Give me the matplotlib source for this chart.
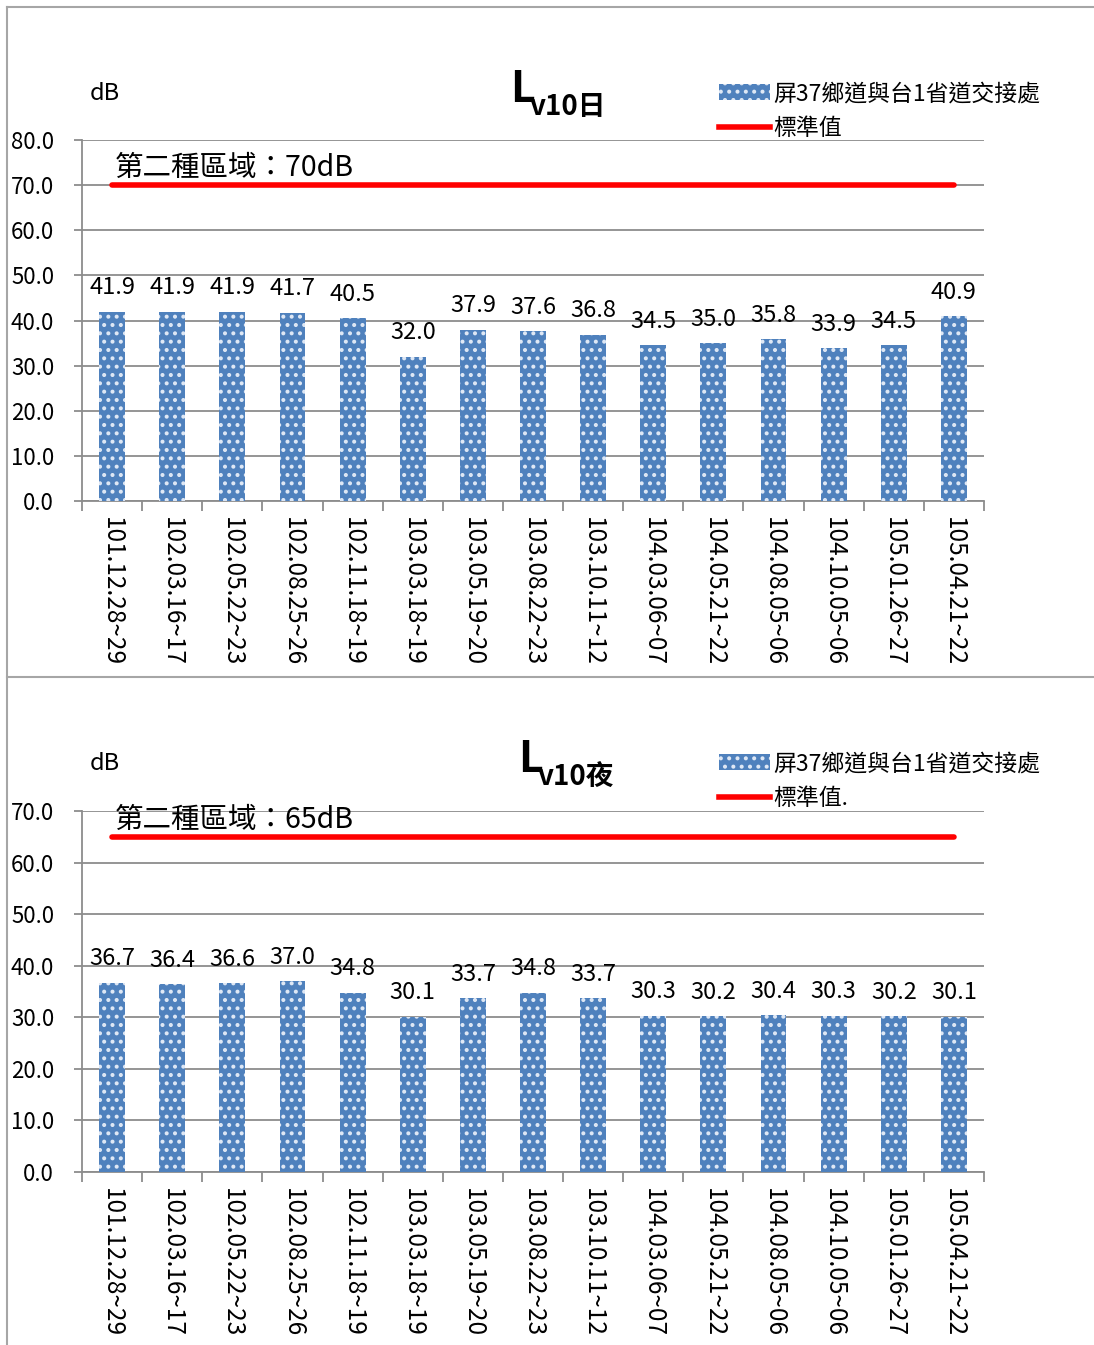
import numpy as np
import matplotlib
matplotlib.use("Agg")
import matplotlib.pyplot as plt
from matplotlib.lines import Line2D
from matplotlib.patches import Patch

plt.rcParams['font.family'] = ['Noto Sans CJK TC', 'DejaVu Sans']
plt.rcParams['hatch.linewidth'] = 1.7

dates = ['101.12.28~29', '102.03.16~17', '102.05.22~23', '102.08.25~26', '102.11.18~19',
         '103.03.18~19', '103.05.19~20', '103.08.22~23', '103.10.11~12', '104.03.06~07',
         '104.05.21~22', '104.08.05~06', '104.10.05~06', '105.01.26~27', '105.04.21~22']
day_vals = [41.9, 41.9, 41.9, 41.7, 40.5, 32.0, 37.9, 37.6, 36.8, 34.5, 35.0, 35.8, 33.9, 34.5, 40.9]
night_vals = [36.7, 36.4, 36.6, 37.0, 34.8, 30.1, 33.7, 34.8, 33.7, 30.3, 30.2, 30.4, 30.3, 30.2, 30.1]
day_std = 70
night_std = 65
site = '屏37鄉道與台1省道交接處'

W, H = 1094, 1345
fig = plt.figure(figsize=(W / 100, H / 100), dpi=100)

bar_color = '#4f81bd'
grid_color = '#8c8c8c'


def fx(px):
    return px / W


def fy(py):
    return 1 - py / H


def panel(top_px, ymax, vals, std, std_label, title_sub, legend_std, y0):
    ax = fig.add_axes([fx(82), fy(top_px + 361), fx(902), 361 / H])
    x = np.arange(len(vals))
    ax.bar(x, vals, width=0.43, color=bar_color, edgecolor='#dfe8f5',
           linewidth=0, hatch='..', zorder=3)
    ax.plot(x, [std] * len(vals), color='#ff0000', lw=4, solid_capstyle='round', zorder=4)
    for xi, v in zip(x, vals):
        ax.annotate(f'{v:.1f}', (xi, v), xytext=(0, 9), textcoords='offset points',
                    ha='center', va='bottom', fontsize=17)
    ax.set_xlim(-0.5, len(vals) - 0.5)
    ax.set_ylim(0, ymax)
    ax.set_yticks(np.arange(0, ymax + 1, 10))
    ax.set_yticklabels([f'{t:.1f}' for t in np.arange(0, ymax + 1, 10)], fontsize=16)
    ax.yaxis.grid(True, color=grid_color, lw=1.3, zorder=0)
    ax.set_xticks(np.arange(-0.5, len(vals) + 0.5, 1))
    ax.set_xticklabels([])
    ax.tick_params(axis='x', length=7, color=grid_color, width=1.3)
    ax.tick_params(axis='y', length=6, color=grid_color, width=1.3, pad=14)
    for xi, d in zip(x, dates):
        ax.text(xi, -0.045 * ymax, d, rotation=270, ha='center', va='top', fontsize=17.5)
    for s in ['top', 'right']:
        ax.spines[s].set_visible(False)
    for s in ['left', 'bottom']:
        ax.spines[s].set_color(grid_color)
        ax.spines[s].set_linewidth(1.3)
    ax.annotate(std_label, (33 / 902, std), xycoords=ax.get_yaxis_transform(),
                xytext=(0, 12), textcoords='offset points', fontsize=20.5,
                fontweight='light', ha='left', va='center', zorder=5)
    fig.text(fx(90), fy(y0 + 93), 'dB', fontsize=17, ha='left', va='center')
    fig.text(fx(title_sub[0]), fy(y0 + 89), 'L', fontsize=31, fontweight='bold',
             ha='left', va='center')
    fig.text(fx(title_sub[0] + 20), fy(y0 + 107), title_sub[1], fontsize=20,
             fontweight='bold', ha='left', va='center')
    handles = [Patch(facecolor=bar_color, edgecolor='#dfe8f5', hatch='..', linewidth=0),
               Line2D([0], [0], color='#ff0000', lw=4)]
    fig.legend(handles, [site, legend_std], loc='upper left',
               bbox_to_anchor=(fx(710), fy(y0 + 73)), frameon=False, fontsize=16.5,
               handlelength=2.2, handletextpad=0.15, labelspacing=0.5, borderaxespad=0)
    return ax


ax1 = panel(140, 80, day_vals, day_std, '第二種區域：70dB', (510, 'v10日'), '標準值', 0)
ax2 = panel(811, 70, night_vals, night_std, '第二種區域：65dB', (518, 'v10夜'), '標準值.', 670)

# panel borders
border = dict(color='#a6a6a6', lw=1.5, transform=fig.transFigure)
fig.add_artist(Line2D([fx(7), fx(7)], [fy(7), 0], **border))
fig.add_artist(Line2D([fx(7), 1], [fy(7), fy(7)], **border))
fig.add_artist(Line2D([fx(7), 1], [fy(677), fy(677)], **border))

fig.savefig('out.png', dpi=100)
